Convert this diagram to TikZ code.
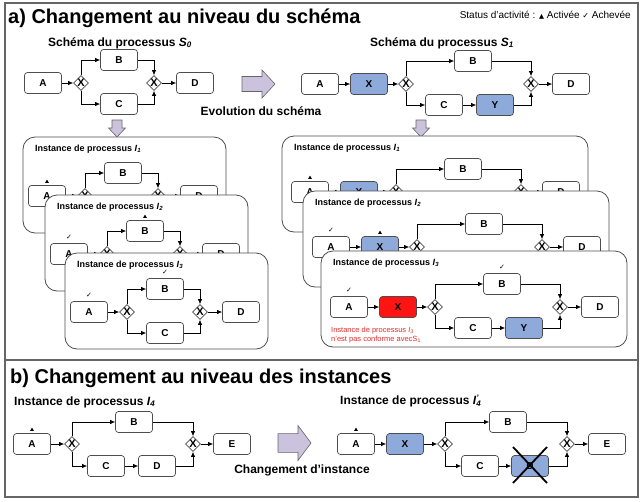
\documentclass[tikz,border=0pt]{standalone}
\usepackage{fontspec}
\setmainfont{Liberation Sans}
\newfontfamily\symfont{DejaVu Sans}
\usetikzlibrary{positioning,shapes.geometric,arrows.meta}

\definecolor{linegray}{HTML}{4D4D4D}
\definecolor{framegray}{HTML}{666666}
\definecolor{newblue}{HTML}{8EAADB}
\definecolor{wrongred}{HTML}{FF1414}
\definecolor{arrowlila}{HTML}{CBC3DD}
\definecolor{alertred}{HTML}{E52B2B}

\tikzset{
  task/.style={draw=linegray, fill=white, rounded corners=3pt, line width=0.7pt,
    minimum width=37pt, minimum height=21pt, inner sep=0pt,
    font=\fontsize{10}{10}\selectfont\bfseries},
  added/.style={task, fill=newblue},
  wrong/.style={task, fill=wrongred},
  xor/.style={diamond, draw=linegray, fill=white, line width=0.7pt,
    minimum size=15pt, inner sep=0pt, font=\fontsize{11}{11}\selectfont\bfseries},
  flow/.style={-{Latex[length=5pt,width=4.5pt]}, line width=0.7pt},
  active/.style={regular polygon, regular polygon sides=3, fill=black,
    inner sep=0pt, minimum size=4.5pt},
  done/.style={inner sep=0pt, font=\symfont\fontsize{7}{7}\selectfont},
  panel/.style={draw=linegray, fill=white, rounded corners=12pt, line width=0.8pt},
  paneltitle/.style={anchor=west, inner sep=0pt, font=\fontsize{9}{9}\selectfont\bfseries},
  subtitle/.style={inner sep=0pt, font=\fontsize{12}{12}\selectfont\bfseries},
  bigtitle/.style={anchor=west, inner sep=0pt, font=\fontsize{20}{20}\selectfont\bfseries},
  bigarrow/.style={draw=framegray, fill=arrowlila, line width=0.6pt},
  rarrow/.pic={\draw[bigarrow] (0,-7.5) -- (20,-7.5) -- (20,-14) -- (33,0)
    -- (20,14) -- (20,7.5) -- (0,7.5) -- cycle;},
  darrow/.pic={\draw[bigarrow] (-5,0) -- (5,0) -- (5,8) -- (8.5,8) -- (0,17)
    -- (-8.5,8) -- (-5,8) -- cycle;},
}

% process with a plain choice between B and C
\newcommand{\flowplain}{%
  \node[task] (A) at (24,59) {A};
  \node[xor] (g1) at (62,59) {X};
  \node[task] (B) at (100,36) {B};
  \node[task] (C) at (100,80) {C};
  \node[xor] (g2) at (135,59) {X};
  \node[task] (D) at (176,59) {D};
  \draw[flow] (A) -- (g1);
  \draw[flow] (g1.north) |- (B);
  \draw[flow] (g1.south) |- (C);
  \draw[flow] (B) -| (g2.north);
  \draw[flow] (C) -| (g2.south);
  \draw[flow] (g2) -- (D);
}

% evolved process: X after A, Y after C (#1 = style of X)
\newcommand{\flowevolved}[1]{%
  \node[task] (A) at (28,56) {A};
  \node[#1] (X) at (77,56) {X};
  \node[xor] (g1) at (114,56) {X};
  \node[task] (B) at (181,33) {B};
  \node[task] (C) at (152,77) {C};
  \node[added] (Y) at (203,77) {Y};
  \node[xor] (g2) at (239,56) {X};
  \node[task] (D) at (279,56) {D};
  \draw[flow] (A) -- (X);
  \draw[flow] (X) -- (g1);
  \draw[flow] (g1.north) |- (B);
  \draw[flow] (g1.south) |- (C);
  \draw[flow] (C) -- (Y);
  \draw[flow] (B) -| (g2.north);
  \draw[flow] (Y) -| (g2.south);
  \draw[flow] (g2) -- (D);
}

% rounded frame of an instance (#1 = width, #2 = index)
\newcommand{\panelframe}[2]{%
  \draw[panel] (0,0) rectangle (#1,96);
  \node[paneltitle] (ptitle) at (12,12) {Instance de processus \textit{I}\textsubscript{\textit{#2}}};
}

\begin{document}
\begin{tikzpicture}[x=1pt, y=-1pt]
  \useasboundingbox (0,0) rectangle (644,501);

  % outer frame, split in two parts
  \draw[framegray, line width=1.2pt] (5,3) rectangle (638,497);
  \draw[framegray, line width=1.2pt] (5,360) -- (638,360);

  % a) change of the schema
  \node[bigtitle] (titleA) at (8,18) {a) Changement au niveau du schéma};
  \node[anchor=east, inner sep=0pt, font=\fontsize{10}{10}\selectfont] (legend) at (631,15)
    {Status d'activité : {\symfont\fontsize{6.5}{6.5}\selectfont ▲} Activée {\symfont\fontsize{8}{8}\selectfont ✓} Achevée};

  \node[subtitle] (titleS0) at (120,43) {Schéma du processus \textit{S}\textsubscript{\textit{0}}};
  \node[subtitle] (titleS1) at (442,43) {Schéma du processus \textit{S}\textsubscript{\textit{1}}};

  \begin{scope}[shift={(19,24)}]
    \flowplain
  \end{scope}
  \begin{scope}[shift={(292,28)}]
    \flowevolved{added}
  \end{scope}

  \pic at (242,84) {rarrow};
  \node[subtitle] (evol) at (261,111) {Evolution du schéma};
  \pic at (117,120) {darrow};
  \pic at (421,120) {darrow};

  % instances of S0
  \begin{scope}[shift={(23,137)}]
    \panelframe{203}{1}
    \flowplain
    \node[active, above=2pt of A] (actA) {};
  \end{scope}
  \begin{scope}[shift={(45,195)}]
    \panelframe{203}{2}
    \flowplain
    \node[done, above=3pt of A] (doneA) {✓};
    \node[active, above=2pt of B] (actB) {};
  \end{scope}
  \begin{scope}[shift={(65,253)}]
    \panelframe{203}{3}
    \flowplain
    \node[done, above=3pt of A] (doneA) {✓};
    \node[done, above=3pt of B] (doneB) {✓};
  \end{scope}

  % instances of S1
  \begin{scope}[shift={(282,136)}]
    \panelframe{306}{1}
    \flowevolved{added}
    \node[active, above=2pt of A] (actA) {};
  \end{scope}
  \begin{scope}[shift={(303,191)}]
    \panelframe{306}{2}
    \flowevolved{added}
    \node[done, above=3pt of A] (doneA) {✓};
    \node[active, above=2pt of X] (actX) {};
  \end{scope}
  \begin{scope}[shift={(321,251)}]
    \panelframe{306}{3}
    \flowevolved{wrong}
    \node[done, above=3pt of A] (doneA) {✓};
    \node[done, above=3pt of B] (doneB) {✓};
    \node[anchor=north west, align=left, inner sep=0pt, text=alertred,
      font=\fontsize{7.5}{9}\selectfont] (warn) at (10,76)
      {Instance de processus \textit{I}\textsubscript{\textit{3}}\\n'est pas conforme avecS\textsubscript{1}};
  \end{scope}

  % b) change of one instance
  \node[bigtitle] (titleB) at (10,378) {b) Changement au niveau des instances};
  \node[subtitle, anchor=west] (titleI4) at (14,402)
    {Instance de processus \textit{I}\textsubscript{\textit{4}}};
  \node[subtitle, anchor=west] (titleI4b) at (340,401)
    {Instance de processus \textit{I}\rlap{\textsubscript{\textit{4}}}\textsuperscript{\textit{'}}};

  % instance I4
  \node[task] (A4) at (32,444) {A};
  \node[active, above=2pt of A4] (actA4) {};
  \node[xor] (g41) at (72,444) {X};
  \node[task] (B4) at (134,422) {B};
  \node[task] (C4) at (106,466) {C};
  \node[task] (D4) at (157,466) {D};
  \node[xor] (g42) at (193,444) {X};
  \node[task] (E4) at (232,444) {E};
  \draw[flow] (A4) -- (g41);
  \draw[flow] (g41.north) |- (B4);
  \draw[flow] (g41.south) |- (C4);
  \draw[flow] (C4) -- (D4);
  \draw[flow] (B4) -| (g42.north);
  \draw[flow] (D4) -| (g42.south);
  \draw[flow] (g42) -- (E4);

  \pic[yscale=1.25] at (278,443) {rarrow};
  \node[subtitle] (change) at (302,470) {Changement d'instance};

  % instance I4'
  \node[task] (A5) at (356,444) {A};
  \node[active, above=2pt of A5] (actA5) {};
  \node[added] (X5) at (405,444) {X};
  \node[xor] (g51) at (445,444) {X};
  \node[task] (B5) at (508,422) {B};
  \node[task] (C5) at (480,466) {C};
  \node[added] (D5) at (530,466) {D};
  \node[xor] (g52) at (567,444) {X};
  \node[task] (E5) at (607,444) {E};
  \draw[flow] (A5) -- (X5);
  \draw[flow] (X5) -- (g51);
  \draw[flow] (g51.north) |- (B5);
  \draw[flow] (g51.south) |- (C5);
  \draw[flow] (C5) -- (D5);
  \draw[flow] (B5) -| (g52.north);
  \draw[flow] (D5) -| (g52.south);
  \draw[flow] (g52) -- (E5);

  % D removed from the instance
  \draw[line width=1.8pt] ([shift={(-17,-19)}]D5.center) -- ([shift={(17,17)}]D5.center);
  \draw[line width=1.8pt] ([shift={(17,-19)}]D5.center) -- ([shift={(-17,17)}]D5.center);
\end{tikzpicture}
\end{document}
